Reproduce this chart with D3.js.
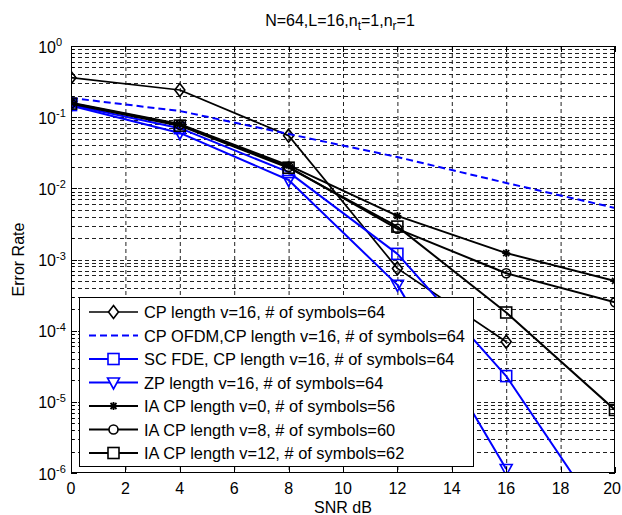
<!DOCTYPE html>
<html><head><meta charset="utf-8">
<script src="https://cdn.jsdelivr.net/npm/d3@7"></script>
<style>body{margin:0;background:#fff}svg{display:block}</style>
</head><body><svg id="c" width="622" height="515"></svg>
<script>
// ---- data ----
const snr = [0, 4, 8, 12, 16, 20];
const cpLen16 = [0.359, 0.241, 0.055, 7.5e-4, 7.0e-5];          // SNR 0..16
const cpOfdm  = [0.186, 0.122, 0.058, 0.0275, 0.0119, 0.0053];
const scFde   = [0.148, 0.070, 0.0169, 1.2e-3, 2.3e-5, 1.25e-7];
const zpLen16 = [0.145, 0.060, 0.0131, 4.4e-4, 1.14e-6];        // SNR 0..16
const iaCp0   = [0.160, 0.080, 0.021, 4.1e-3, 1.23e-3, 5.0e-4];
const iaCp8   = [0.157, 0.078, 0.020, 2.7e-3, 6.4e-4, 2.5e-4];
const iaCp12  = [0.155, 0.076, 0.0195, 2.9e-3, 1.8e-4, 7.7e-6];
const legendLabels = [
  "CP length v=16, # of symbols=64",
  "CP OFDM,CP length v=16, # of symbols=64",
  "SC FDE, CP length v=16, # of symbols=64",
  "ZP length v=16, # of symbols=64",
  "IA CP length v=0, # of symbols=56",
  "IA CP length v=8, # of symbols=60",
  "IA CP length v=12, # of symbols=62"
];
const xTickVals = [0, 2, 4, 6, 8, 10, 12, 14, 16, 18, 20];
const yExponents = [0, -1, -2, -3, -4, -5, -6];
const titleParts = ["N=64,L=16,n", "t", "=1,n", "r", "=1"];
const xLabel = "SNR dB";
const yLabel = "Error Rate";

// ---- layout ----
const W = 622;
const L = 71, R = 615, T = 46, B = 473;
const svg = d3.select("#c");
const x = d3.scaleLinear().domain([0, 20]).range([L, R]);
const y = d3.scaleLog().domain([1e-6, 1]).range([B, T]);
const font = "'Liberation Sans', Arial, sans-serif";

const series = [
  {vals: cpLen16, color: "#000", dash: null, marker: "diamond", w: 1.7},
  {vals: cpOfdm,  color: "#0000ff", dash: "7,4", marker: null, w: 2},
  {vals: scFde,   color: "#0000ff", dash: null, marker: "square", w: 2},
  {vals: zpLen16, color: "#0000ff", dash: null, marker: "triangle", w: 2},
  {vals: iaCp0,   color: "#000", dash: null, marker: "star", w: 2},
  {vals: iaCp8,   color: "#000", dash: null, marker: "circle", w: 2},
  {vals: iaCp12,  color: "#000", dash: null, marker: "square", w: 2}
];

// background
svg.append("rect").attr("x", L).attr("y", T).attr("width", R - L).attr("height", B - T).attr("fill", "#fff");

// grid
const grid = svg.append("g").attr("stroke", "#222").attr("stroke-width", 1).attr("stroke-dasharray", "4,3").attr("fill", "none");
xTickVals.filter(v => v > 0 && v < 20).forEach(v => {
  grid.append("line").attr("x1", x(v) + 0.5).attr("x2", x(v) + 0.5).attr("y1", T).attr("y2", B);
});
const yGridVals = [];
for (let e = -6; e < 0; e++) for (let m = 1; m <= 9; m++) { const v = m * Math.pow(10, e); if (e > -6 || m > 1) yGridVals.push(v); }
yGridVals.forEach(v => {
  const yy = Math.round(y(v)) + 0.5;
  grid.append("line").attr("x1", L).attr("x2", R).attr("y1", yy).attr("y2", yy);
});

// plot lines
svg.append("clipPath").attr("id", "clip").append("rect").attr("x", L).attr("y", T).attr("width", R - L).attr("height", B - T);
const plot = svg.append("g").attr("clip-path", "url(#clip)");
const line = d3.line().x((d, i) => x(snr[i])).y(d => y(d));

function marker(g, type, cx, cy, color, fill) {
  const m = g.append("g").attr("transform", `translate(${cx},${cy})`).attr("stroke", color).attr("stroke-width", 1.6).attr("fill", fill);
  if (type === "diamond") m.append("path").attr("d", "M0,-6.5L5,0L0,6.5L-5,0Z");
  else if (type === "square") m.append("rect").attr("x", -5.5).attr("y", -5.5).attr("width", 11).attr("height", 11);
  else if (type === "triangle") m.append("path").attr("d", "M-6,-4.5L6,-4.5L0,6.5Z");
  else if (type === "circle") m.append("circle").attr("r", 4.5);
  else if (type === "star") m.append("path").attr("d", "M-4,0L4,0M0,-4L0,4M-3,-3L3,3M-3,3L3,-3").attr("stroke-width", 1.8);
}

series.forEach(s => {
  plot.append("path").datum(s.vals).attr("d", line).attr("fill", "none")
    .attr("stroke", s.color).attr("stroke-width", s.w)
    .attr("stroke-dasharray", s.dash).attr("stroke-linejoin", "round");
  if (s.marker) s.vals.forEach((v, i) => {
    if (v >= 1e-6) marker(plot, s.marker, x(snr[i]), y(v), s.color, "none");
  });
});

// axes box and ticks
const ax = svg.append("g").attr("stroke", "#000").attr("stroke-width", 1).attr("fill", "none");
ax.append("rect").attr("x", L + 0.5).attr("y", T + 0.5).attr("width", R - L - 1).attr("height", B - T - 1);
xTickVals.forEach(v => {
  const xx = Math.round(x(v)) + 0.5;
  ax.append("line").attr("x1", xx).attr("x2", xx).attr("y1", B).attr("y2", B - 6);
  ax.append("line").attr("x1", xx).attr("x2", xx).attr("y1", T).attr("y2", T + 6);
});
yExponents.forEach(e => {
  const yy = Math.round(y(Math.pow(10, e))) + 0.5;
  ax.append("line").attr("x1", L).attr("x2", L + 6).attr("y1", yy).attr("y2", yy);
  ax.append("line").attr("x1", R).attr("x2", R - 6).attr("y1", yy).attr("y2", yy);
});
yGridVals.filter(v => Math.abs(Math.log10(v) - Math.round(Math.log10(v))) > 1e-6).forEach(v => {
  const yy = Math.round(y(v)) + 0.5;
  ax.append("line").attr("x1", L).attr("x2", L + 3).attr("y1", yy).attr("y2", yy);
  ax.append("line").attr("x1", R).attr("x2", R - 3).attr("y1", yy).attr("y2", yy);
});

// tick labels
const tl = svg.append("g").attr("font-family", font).attr("fill", "#000");
xTickVals.forEach(v => {
  const t = tl.append("text").attr("x", x(v)).attr("y", 494).attr("text-anchor", "middle").attr("font-size", 16).text(v);
  const bb = t.node().getBBox();
  if (bb.x + bb.width > W - 1) t.attr("text-anchor", "end").attr("x", W - 1);
});
yExponents.forEach(e => {
  const yy = y(Math.pow(10, e));
  tl.append("text").attr("x", 56).attr("y", yy + 6.5).attr("text-anchor", "end").attr("font-size", 16).text("10");
  tl.append("text").attr("x", 56).attr("y", yy).attr("text-anchor", "start").attr("font-size", 11).text(e === 0 ? "0" : "-" + Math.abs(e));
});

// axis labels
tl.append("text").attr("x", (L + R) / 2).attr("y", 513).attr("text-anchor", "middle").attr("font-size", 16).text(xLabel);
tl.append("text").attr("transform", `translate(24,${(T + B) / 2}) rotate(-90)`).attr("text-anchor", "middle").attr("font-size", 16).text(yLabel);

// title
const tt = tl.append("text").attr("x", 340).attr("y", 26).attr("text-anchor", "middle").attr("font-size", 16);
titleParts.forEach((p, i) => {
  if (i % 2 === 1) tt.append("tspan").attr("font-size", 12).attr("dy", 4).text(p);
  else tt.append("tspan").attr("dy", i === 0 ? 0 : -4).text(p);
});

// legend
const lg = svg.append("g");
lg.append("rect").attr("x", 79.5).attr("y", 297.5).attr("width", 394).attr("height", 169)
  .attr("fill", "#fff").attr("stroke", "#000").attr("stroke-width", 1);
series.forEach((s, i) => {
  const yy = 312 + i * 23.5;
  lg.append("line").attr("x1", 89).attr("x2", 138).attr("y1", yy).attr("y2", yy)
    .attr("stroke", s.color).attr("stroke-width", s.w).attr("stroke-dasharray", s.dash);
  if (s.marker) marker(lg, s.marker, 113.5, yy, s.color, "#fff");
  lg.append("text").attr("x", 144).attr("y", yy + 6).attr("font-family", font).attr("font-size", 16.4)
    .attr("fill", "#000").text(legendLabels[i]);
});
</script></body></html>
